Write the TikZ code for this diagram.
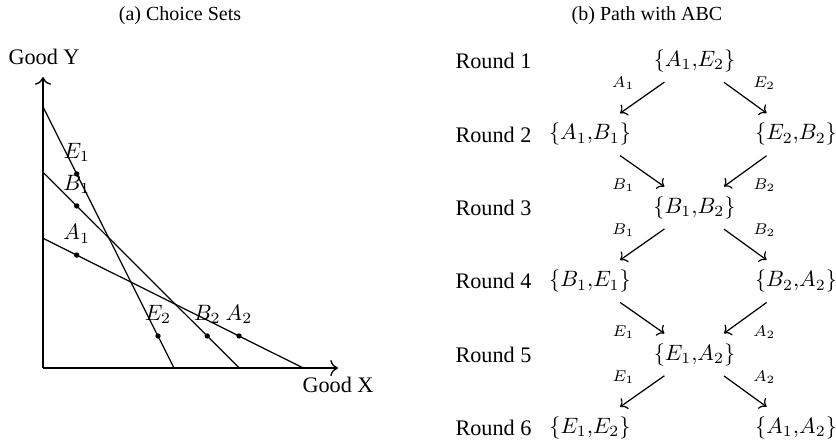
\documentclass[tikz,border=0pt]{standalone}
\usepackage{amsmath}
\usepackage{fontspec}
\setmainfont{Liberation Serif}
\usepackage{tikz}
\usetikzlibrary{positioning,arrows.meta,calc}

\begin{document}
\begin{tikzpicture}[every node/.style={font=\normalsize}]
   \tikzstyle{ax}=[draw,-{To[scale=1.2]},line width=0.6pt];
   \tikzstyle{bl}=[draw,line width=0.55pt];
   \tikzstyle{pt}=[circle,fill,inner sep=0pt,minimum size=2.4pt];
   \tikzstyle{pl}=[inner sep=0pt];
   \tikzstyle{st}=[inner sep=0pt];
   \tikzstyle{l}=[draw,-{To},line width=0.55pt,shorten <=7.5pt,shorten >=7.5pt];
   \tikzstyle{lab}=[midway,font=\scriptsize];
   \useasboundingbox (0,0) rectangle (13.222,6.991);
   % (a) choice sets
   \node[font=\small] (ta) at (2.847,6.738) {(a) Choice Sets};
   \coordinate (o)    at (0.680,1.170);
   \coordinate (ytip) at (0.680,5.773);
   \coordinate (xtip) at (5.346,1.170);
   \draw[ax] (o) -- (ytip);
   \draw[ax] (o) -- (xtip);
   \node (goody) at (0.696,6.089) {Good Y};
   \node (goodx) at (5.346,0.902) {Good X};
   \coordinate (et) at (0.680,5.303); \coordinate (eb) at (2.752,1.170);
   \coordinate (bt) at (0.680,4.266); \coordinate (bb) at (3.785,1.170);
   \coordinate (at) at (0.680,3.222); \coordinate (ab) at (4.797,1.170);
   \draw[bl] (et) -- (eb);
   \draw[bl] (bt) -- (bb);
   \draw[bl] (at) -- (ab);
   \node[pt] (e1) at (1.213,4.240) {};
   \node[pt] (b1) at (1.213,3.734) {};
   \node[pt] (a1) at (1.213,2.956) {};
   \node[pt] (e2) at (2.499,1.677) {};
   \node[pt] (b2) at (3.277,1.677) {};
   \node[pt] (a2) at (3.781,1.677) {};
   \node[pl,above=3.8pt of e1] {$E_1$};
   \node[pl,above=3.8pt of b1] {$B_1$};
   \node[pl,above=3.8pt of a1] {$A_1$};
   \node[pl,above=3.8pt of e2] {$E_2$};
   \node[pl,above=3.8pt of b2] {$B_2$};
   \node[pl,above=3.8pt of a2] {$A_2$};
   % (b) path with ABC
   \node[font=\small] (tb) at (10.233,6.738) {(b) Path with ABC};
   \node[anchor=west] (r1) at (7.08,6.026) {Round 1};
   \node[anchor=west] (r2) at (7.08,4.865) {Round 2};
   \node[anchor=west] (r3) at (7.08,3.704) {Round 3};
   \node[anchor=west] (r4) at (7.08,2.543) {Round 4};
   \node[anchor=west] (r5) at (7.08,1.382) {Round 5};
   \node[anchor=west] (r6) at (7.08,0.221) {Round 6};
   \node[st] (s1)  at (10.984,6.026) {$\{A_1,\!E_2\}$};
   \node[st] (s2l) at ( 9.331,4.865) {$\{A_1,\!B_1\}$};
   \node[st] (s2r) at (12.590,4.865) {$\{E_2,\!B_2\}$};
   \node[st] (s3)  at (10.984,3.704) {$\{B_1,\!B_2\}$};
   \node[st] (s4l) at ( 9.331,2.543) {$\{B_1,\!E_1\}$};
   \node[st] (s4r) at (12.590,2.543) {$\{B_2,\!A_2\}$};
   \node[st] (s5)  at (10.984,1.382) {$\{E_1,\!A_2\}$};
   \node[st] (s6l) at ( 9.331,0.221) {$\{E_1,\!E_2\}$};
   \node[st] (s6r) at (12.590,0.221) {$\{A_1,\!A_2\}$};
   \draw[l] (s1) -- node[lab,above left]{$A_1$} (s2l);
   \draw[l] (s1) -- node[lab,above right]{$E_2$} (s2r);
   \draw[l] (s2l) -- node[lab,below left]{$B_1$} (s3);
   \draw[l] (s2r) -- node[lab,below right]{$B_2$} (s3);
   \draw[l] (s3) -- node[lab,above left]{$B_1$} (s4l);
   \draw[l] (s3) -- node[lab,above right]{$B_2$} (s4r);
   \draw[l] (s4l) -- node[lab,below left]{$E_1$} (s5);
   \draw[l] (s4r) -- node[lab,below right]{$A_2$} (s5);
   \draw[l] (s5) -- node[lab,above left]{$E_1$} (s6l);
   \draw[l] (s5) -- node[lab,above right]{$A_2$} (s6r);
  \end{tikzpicture}
\end{document}
